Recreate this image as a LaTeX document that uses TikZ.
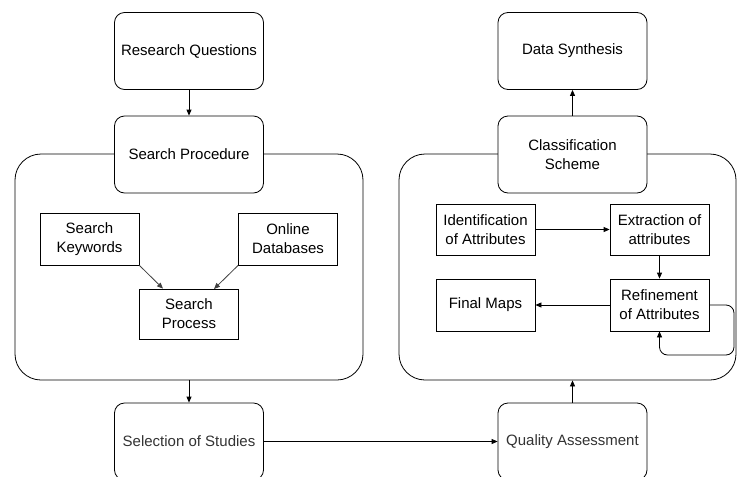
\documentclass[tikz,border=0pt]{standalone}
\usepackage{fontspec}
\setmainfont{Liberation Sans}
\usetikzlibrary{arrows.meta}
\begin{document}
\begin{tikzpicture}[x=1pt,y=-1pt,
  every node/.style={font=\fontsize{15}{19}\selectfont, align=center, inner sep=0pt},
  rbox/.style={draw, line width=0.8pt, fill=white, rounded corners=10pt, minimum width=149pt, minimum height=77pt},
  sbox/.style={draw, line width=0.8pt, fill=white, minimum width=99pt, minimum height=52pt},
  cont/.style={draw, line width=0.8pt, rounded corners=26pt},
  arr/.style={line width=0.8pt, -{Triangle[length=6pt,width=5pt]}}
]
\useasboundingbox (0,0) rectangle (737,477);
\clip (0,0) rectangle (737,477);
% containers
\node[cont, minimum width=348pt, minimum height=226pt] (leftc) at (189,267) {};
\node[cont, minimum width=337pt, minimum height=226pt] (rightc) at (567.5,267) {};
% top boxes
\node[rbox] (rq) at (189,51) {Research Questions};
\node[rbox] (sp) at (189,154.5) {Search Procedure};
\node[rbox] (ds) at (572.5,51) {Data Synthesis};
\node[rbox] (cs) at (572.5,154.5) {Classification\\Scheme};
\node[rbox, text=black!80] (sel) at (189,441.5) {Selection of Studies};
\node[rbox, text=black!80] (qa) at (572.5,441.5) {Quality Assessment};
% inner boxes left
\node[sbox] (kw) at (89.5,239) {Search\\Keywords};
\node[sbox] (db) at (288,239) {Online\\Databases};
\node[sbox, minimum height=50pt] (proc) at (189,314) {Search\\Process};
% inner boxes right
\node[sbox, minimum height=51pt] (idn) at (485.5,229.5) {Identification\\of Attributes};
\node[sbox, minimum height=51pt] (ext) at (659.5,229.5) {Extraction of\\attributes};
\node[sbox] (fm) at (485.5,305) {Final Maps};
\node[sbox] (ref) at (659.5,305) {Refinement\\of Attributes};
\coordinate (loopR) at (734,355);
% connectors
\draw[arr] (rq) -- (sp);
\draw[arr] (cs) -- (ds);
\draw[arr, draw=black!75] (kw.south east) -- (proc.north west -| 163,289);
\draw[arr, draw=black!75] (db.south west) -- (214,289);
\draw[arr] (leftc.south) -- (sel.north);
\draw[arr] (sel.east) -- (qa.west);
\draw[arr] (qa.north) -- (qa.north |- rightc.south);
\draw[arr] (idn.east) -- (ext.west);
\draw[arr] (ext) -- (ref);
\draw[arr] (ref) -- (fm);
\draw[arr, rounded corners=8pt] (ref.east) -| (loopR) -| (ref.south);
\end{tikzpicture}
\end{document}
